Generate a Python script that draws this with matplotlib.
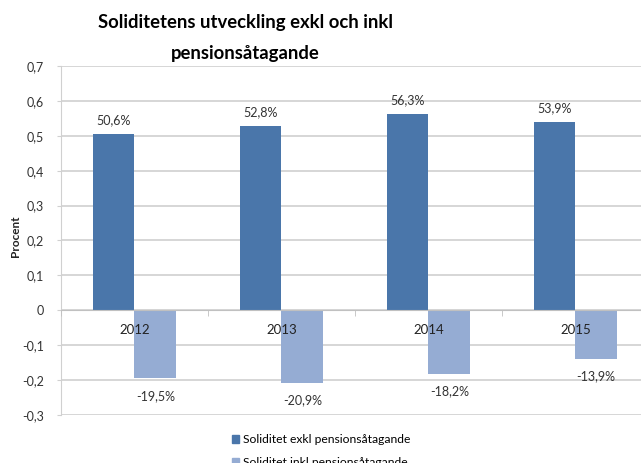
import numpy as np
import matplotlib
matplotlib.use('Agg')
import matplotlib.pyplot as plt
from matplotlib.patches import Patch

years = ['2012', '2013', '2014', '2015']
exkl = [0.506, 0.528, 0.563, 0.539]
inkl = [-0.195, -0.209, -0.182, -0.139]
series_names = ['Soliditet exkl pensionsåtagande', 'Soliditet inkl pensionsåtagande']
y_ticks = [-0.3, -0.2, -0.1, 0, 0.1, 0.2, 0.3, 0.4, 0.5, 0.6, 0.7]

dark = '#4a76aa'
light = '#95acd3'
grid = '#d0d0d0'

plt.rcParams['font.family'] = ['Lato', 'DejaVu Sans']


def pct(v):
    return f'{v * 100:.1f}%'.replace('.', ',')


def tick_fmt(v):
    if abs(v) < 1e-9:
        return '0'
    return f'{v:.1f}'.replace('.', ',')


fig = plt.figure(figsize=(6.41, 4.63), dpi=100)
ax = fig.add_axes([0.0952, 0.1037, 0.917, 0.7538])

x = np.arange(len(years))
w = 0.284
ax.bar(x - w / 2, exkl, w, color=dark, zorder=3)
ax.bar(x + w / 2, inkl, w, color=light, zorder=3)

for xi, v in zip(x, exkl):
    ax.annotate(pct(v), (xi - w / 2, v), xytext=(0, 10), textcoords='offset points',
                ha='center', va='center', fontsize=9, color='#333333')
for xi, v in zip(x, inkl):
    ax.annotate(pct(v), (xi + w / 2, v), xytext=(0, -12.5), textcoords='offset points',
                ha='center', va='center', fontsize=9, color='#333333')

ax.set_xlim(-0.5, len(years) - 0.5)
ax.set_ylim(-0.3, 0.7)
ax.set_yticks(y_ticks)
ax.set_yticklabels([tick_fmt(v) for v in y_ticks], fontsize=9, color='#333333')
ax.yaxis.grid(True, color=grid, lw=1.2, zorder=0)
ax.tick_params(axis='y', length=3, color=grid, pad=9)

# category axis along zero line, labels drawn over the bars
ax.spines['bottom'].set_position(('data', 0))
ax.spines['bottom'].set_color('#c0c0c0')
ax.spines['bottom'].set_zorder(4)
ax.xaxis.set_zorder(5)
ax.set_xticks(x)
ax.set_xticklabels(years, fontsize=9.5, color='#222222')
ax.set_xticks(np.arange(len(years)) - 0.5, minor=True)
ax.tick_params(axis='x', which='major', length=0, pad=10)
ax.tick_params(axis='x', which='minor', length=4, color='#c0c0c0', direction='out')
ax.spines['left'].set_color(grid)
ax.spines['top'].set_visible(False)
ax.spines['right'].set_visible(False)

fig.text(16 / 641, 1 - 236 / 463, 'Procent', rotation=90, ha='center', va='center',
         fontsize=8.5, fontweight='bold', color='#222222')
fig.text(245 / 641, 1 - 38 / 463, 'Soliditetens utveckling exkl och inkl\npensionsåtagande',
         ha='center', va='center', fontsize=13.3, fontweight='bold', linespacing=1.95)

handles = [Patch(color=dark), Patch(color=light)]
fig.legend(handles, series_names, loc='upper left', bbox_to_anchor=(226 / 641, 1 - 428 / 463),
           frameon=False, fontsize=8.7, handlelength=0.6, handleheight=0.6, handletextpad=0.3,
           labelspacing=1.0, borderpad=0)

fig.savefig('out.png', dpi=100)
